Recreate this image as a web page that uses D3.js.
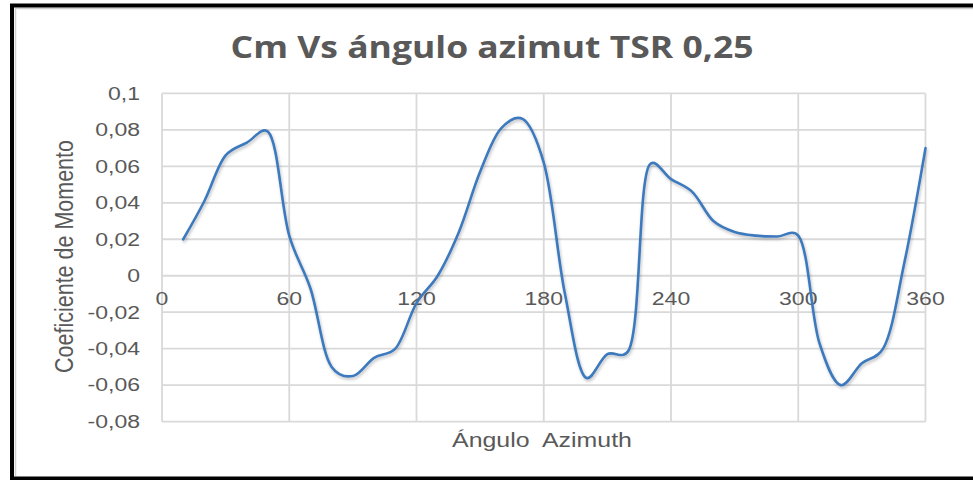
<!DOCTYPE html>
<html><head><meta charset="utf-8">
<script src="https://cdn.jsdelivr.net/npm/d3@7"></script>
<style>html,body{margin:0;padding:0;background:#fff;}svg{display:block;}</style>
</head><body>
<script>
const angles = [10,20,30,40,50,60,70,80,90,100,110,120,130,140,150,160,170,180,190,200,210,220,230,240,250,260,270,280,290,300,310,320,330,340,350,360];
const cmValues = [0.020,0.041,0.066,0.073,0.079,0.022,-0.007,-0.050,-0.055,-0.045,-0.040,-0.015,0.000,0.024,0.057,0.081,0.086,0.062,-0.010,-0.056,-0.043,-0.041,0.061,0.053,0.046,0.030,0.024,0.022,0.0215,0.022,-0.037,-0.060,-0.048,-0.040,0.007,0.070];
const xTicks = [0,60,120,180,240,300,360];
const yTicks = [-0.08,-0.06,-0.04,-0.02,0,0.02,0.04,0.06,0.08,0.1];
const titleText = "Cm Vs ángulo azimut TSR 0,25";
const xTitle = "Ángulo  Azimuth";
const yTitle = "Coeficiente de Momento";

const W = 973, H = 480;
const svg = d3.select("body").append("svg").attr("width", W).attr("height", H);
const defs = svg.append("defs");
const f = defs.append("filter").attr("id","sh").attr("x","-5%").attr("y","-5%").attr("width","110%").attr("height","115%");
f.append("feDropShadow").attr("dx",1).attr("dy",2).attr("stdDeviation",1.5).attr("flood-color","#000").attr("flood-opacity",0.25);

const x = d3.scaleLinear().domain([0,360]).range([162,925.5]);
const y = d3.scaleLinear().domain([-0.08,0.1]).range([421.6,93.4]);
const fmt = v => Math.abs(v) < 1e-9 ? "0" : String(+v.toFixed(2)).replace(".", ",");
const grey = "#595959";

// frame
svg.append("path").attr("d","M973,8.5 H15.5 V476").attr("fill","none").attr("stroke","#d0d0d0").attr("stroke-width",1.5);
svg.append("path").attr("d","M973,5.5 H12 V478.5 H973").attr("fill","none").attr("stroke","#000").attr("stroke-width",4);

// grid
const grid = svg.append("g").attr("stroke","#d9d9d9").attr("stroke-width",1.8);
grid.selectAll("line.h").data(yTicks).join("line").attr("class","h")
  .attr("x1",x(0)).attr("x2",x(360)).attr("y1",d=>y(d)).attr("y2",d=>y(d));
grid.selectAll("line.v").data(xTicks).join("line").attr("class","v")
  .attr("y1",y(0.1)).attr("y2",y(-0.08)).attr("x1",d=>x(d)).attr("x2",d=>x(d));

function stretch(sel, sx){
  sel.each(function(){
    const t = d3.select(this);
    const tx = +t.attr("data-x"), ty = +t.attr("data-y");
    t.attr("transform", `translate(${tx},${ty}) scale(${sx},1)`);
  });
}

// y tick labels
const yl = svg.append("g").attr("font-family","Liberation Sans, Arial, sans-serif").attr("font-size",18).attr("fill",grey)
  .selectAll("text").data(yTicks).join("text")
  .attr("data-x",140).attr("data-y",d=>y(d)+6.3)
  .attr("text-anchor","end").text(fmt);
stretch(yl,1.28);

// x tick labels
const xl = svg.append("g").attr("font-family","Liberation Sans, Arial, sans-serif").attr("font-size",18).attr("fill",grey)
  .selectAll("text").data(xTicks).join("text")
  .attr("data-x",d=>x(d)).attr("data-y",y(0)+29)
  .attr("text-anchor","middle").text(d=>d);
stretch(xl,1.28);

// line
const line = d3.line().x((d,i)=>x(angles[i])).y(d=>y(d)).curve(d3.curveCatmullRom.alpha(0.35));
svg.append("path").datum(cmValues).attr("d",line).attr("fill","none")
  .attr("stroke","#3d79bd").attr("stroke-width",2.6).attr("stroke-linejoin","round").attr("stroke-linecap","round")
  .attr("filter","url(#sh)");

// title
const tt = svg.append("text").attr("font-family","Open Sans, sans-serif").attr("font-weight",700)
  .attr("font-size",30).attr("fill",grey).attr("text-anchor","middle").text(titleText);
{
  const w = tt.node().getComputedTextLength();
  tt.attr("transform",`translate(492,58) scale(${523/w},1)`);
}

// x axis title
const xt = svg.append("text").attr("font-family","Liberation Sans, Arial, sans-serif")
  .attr("font-size",20.5).attr("fill",grey).attr("text-anchor","middle").style("white-space","pre").text(xTitle);
{
  const w = xt.node().getComputedTextLength();
  xt.attr("transform",`translate(542,446.5) scale(${180/w},1)`);
}

// y axis title
const yt = svg.append("text").attr("font-family","Liberation Sans, Arial, sans-serif")
  .attr("font-size",21.5).attr("fill",grey).attr("text-anchor","middle").text(yTitle);
{
  const w = yt.node().getComputedTextLength();
  yt.attr("transform",`translate(72.5,256.5) scale(1.2,${233/w}) rotate(-90)`);
}
</script>
</body></html>
